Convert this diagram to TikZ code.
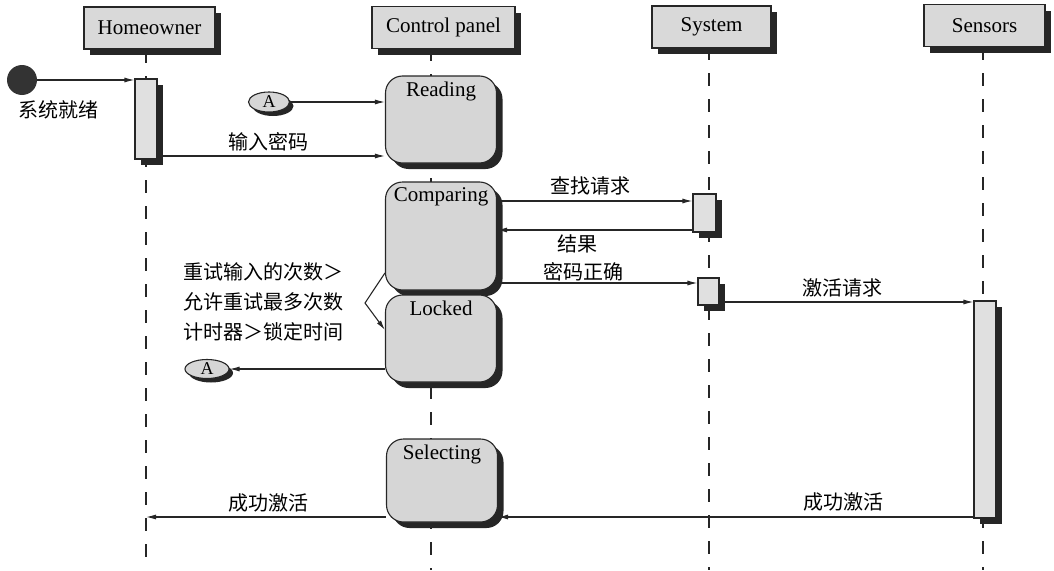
\documentclass[tikz,border=0pt]{standalone}
\usepackage{fontspec}
\setmainfont{Liberation Serif}
\newfontfamily\cjk{Noto Sans CJK SC}
\usepackage{tikz}
\usetikzlibrary{arrows.meta, shapes.geometric, shadows, calc}

\tikzset{
  dshadow/.style={drop shadow={shadow xshift=6pt, shadow yshift=-6pt, fill=black!85, opacity=1}},
  head/.style={draw=black!85, line width=1.1pt, fill=black!15, minimum height=42pt, inner sep=0pt, font=\fontsize{21}{25}\selectfont, dshadow},
  state/.style={draw=black!85, line width=1.1pt, fill=black!16, rounded corners=17pt, minimum width=111pt, inner sep=0pt, dshadow},
  act/.style={draw=black!85, line width=1.1pt, fill=black!12, minimum width=22pt, inner sep=0pt, dshadow},
  conn/.style={ellipse, draw=black!85, line width=1.1pt, fill=black!16, inner sep=0pt, font=\fontsize{18}{20}\selectfont, drop shadow={shadow xshift=4pt, shadow yshift=-4pt, fill=black!85, opacity=1}},
  stname/.style={font=\fontsize{21}{25}\selectfont, anchor=north, yshift=-3pt},
  lifeline/.style={black!85, line width=1.1pt, dash pattern=on 13pt off 13pt},
  msg/.style={black!85, line width=1.1pt, -{Latex[length=10pt, width=5pt]}},
  zh/.style={font=\cjk\fontsize{20}{24}\selectfont},
}

\begin{document}
\begin{tikzpicture}[x=1pt, y=-1pt]
      \useasboundingbox (0,0) rectangle (1054,570);

      % Lifelines
      \draw[lifeline] (146,50) -- (146,570);
      \draw[lifeline] (431,48) -- (431,570);
      \draw[lifeline] (709,47) -- (709,570);
      \draw[lifeline] (983,47) -- (983,570);
      \coordinate (hbot) at (146,570);

      % Heads
      \node[head, minimum width=131pt] (homeowner) at (149.5,28) {Homeowner};
      \node[head, minimum width=143pt] (cpanel) at (443.5,27.5) {Control panel};
      \node[head, minimum width=119pt] (system) at (711.5,27) {System};
      \node[head, minimum width=121pt] (sensors) at (984.5,25.5) {Sensors};

      % Homeowner
      \node[circle, fill=black!80, minimum size=30pt, inner sep=0pt] (init) at (22,80) {};
      \node[zh] (ready) at (58,110) {系统就绪};
      \node[act, minimum height=80pt] (hact) at (146,119) {};

      % Control panel states
      \node[state, minimum height=87pt, label={[stname]north:Reading}] (reading) at (441,119.5) {};
      \node[state, minimum height=108pt, label={[stname]north:Comparing}] (comparing) at (441,236) {};
      \node[state, minimum height=87pt, label={[stname]north:Locked}] (locked) at (441,338.5) {};
      \node[state, minimum height=83pt, label={[stname]north:Selecting}] (selecting) at (442,480.5) {};

      \node[conn, minimum width=41pt, minimum height=20pt] (a1) at (269,102) {A};
      \node[conn, minimum width=44pt, minimum height=19pt] (a2) at (207,369) {A};

      % System and Sensors
      \node[act, minimum width=23pt, minimum height=38pt] (sact1) at (704.5,213) {};
      \node[act, minimum width=21pt, minimum height=27pt] (sact2) at (708.5,291.5) {};
      \node[act, minimum height=217pt] (sensact) at (985,409.5) {};

      % Messages
      \draw[msg] (init.east) -- (hact.west |- init.east);
      \draw[msg] (a1.east) -- (reading.west |- a1.east);
      \draw[msg] (hact.east |- 0,156) -- (reading.west |- 0,156);
      \node[zh] (pwd) at (268,142) {输入密码};

      \draw[msg] (comparing.east |- 0,201) -- (sact1.west |- 0,201);
      \node[zh] (lookup) at (590,186) {查找请求};
      \draw[msg] (sact1.west |- 0,230) -- (comparing.east |- 0,230);
      \node[zh] (result) at (577,244) {结果};
      \node[zh] (pwdok) at (583,272) {密码正确};
      \draw[msg] (comparing.east |- 0,283) -- (sact2.west |- 0,283);

      \draw[msg] (sact2.east |- 0,302) -- (sensact.west |- 0,302);
      \node[zh] (actreq) at (842,288) {激活请求};

      \draw[msg] (sensact.west |- 0,517) -- (selecting.east |- 0,517);
      \node[zh] (okright) at (843,502) {成功激活};
      \draw[msg] (selecting.west |- 0,517) -- (hbot |- 0,517);
      \node[zh] (okleft) at (268,503) {成功激活};

      % Locked branch
      \coordinate (fork) at (365,303);
      \draw[msg] (comparing.west |- 0,273) -- (fork) -- (locked.west |- 0,330);
      \node[zh, anchor=west, align=left, font=\cjk\fontsize{20}{30}\selectfont] (guard) at (180,302)
        {重试输入的次数＞\\允许重试最多次数\\计时器＞锁定时间};
      \draw[msg] (locked.west |- a2.east) -- (a2.east);
    \end{tikzpicture}
\end{document}
